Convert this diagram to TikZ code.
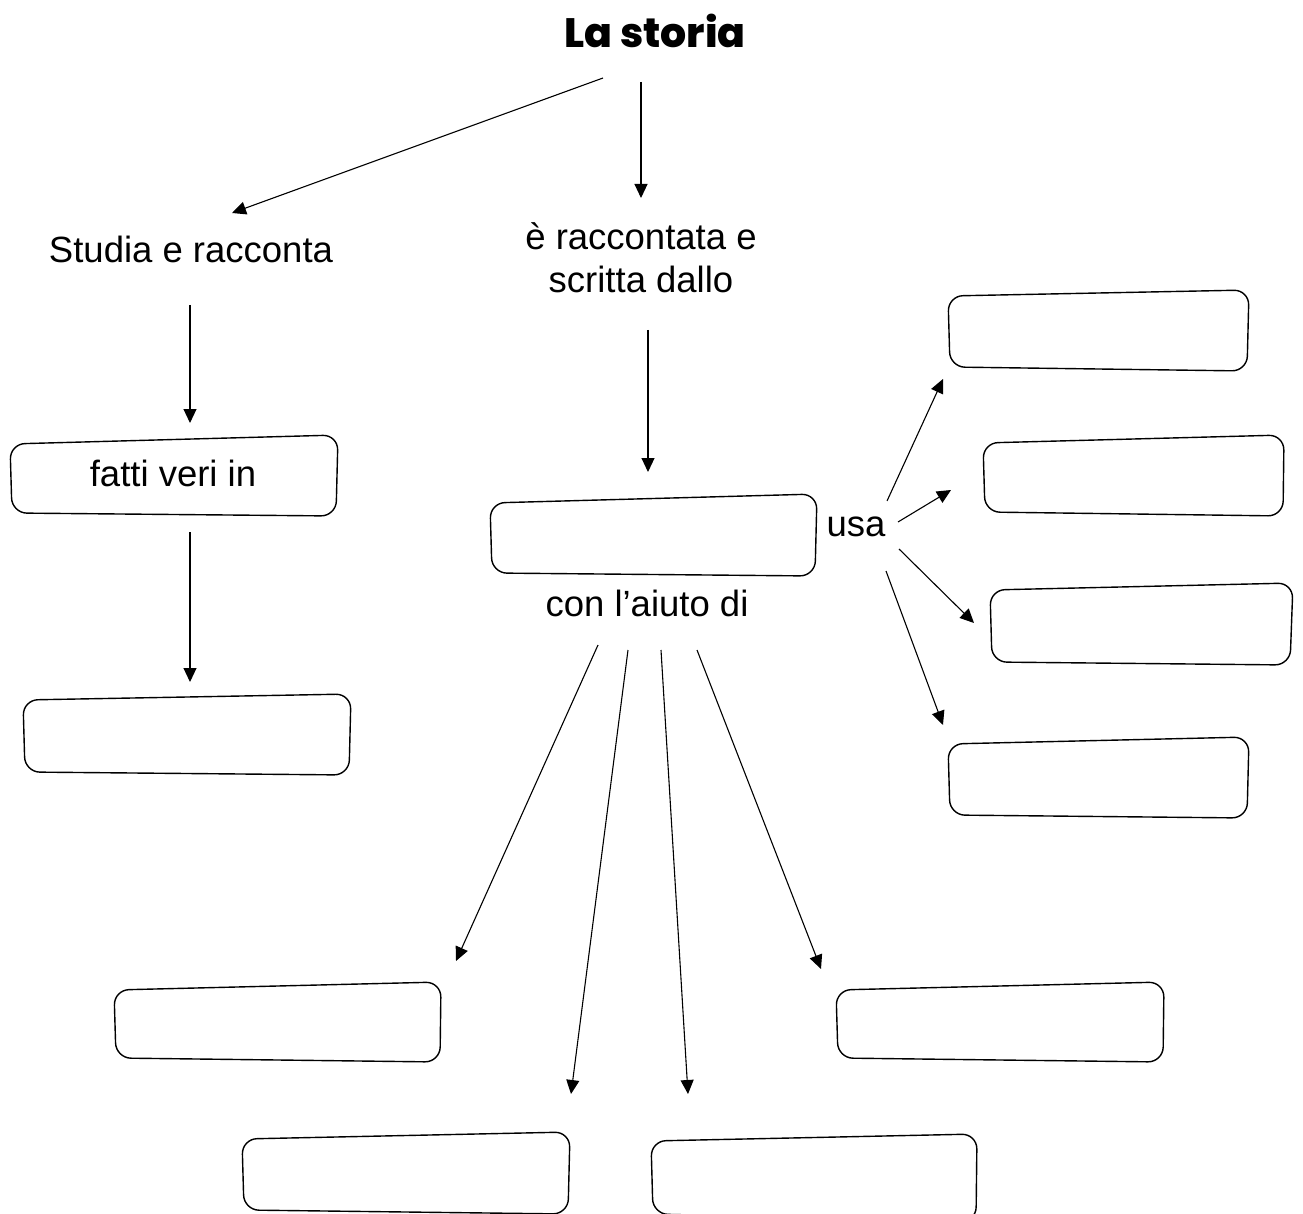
\documentclass[tikz,border=0pt]{standalone}
\usepackage{fontspec}
\setmainfont{Liberation Sans}
\newfontfamily\titlefont{Poppins}[UprightFont=* ExtraBold, BoldFont=* ExtraBold]
\usetikzlibrary{arrows.meta}
\tikzset{
  arr/.style={line width=1.1pt,-{Triangle[length=14pt,width=13pt]}},
  boxline/.style={line width=1.4pt,rounded corners=15pt},
  lbl/.style={font=\fontsize{36.5}{43}\selectfont,align=center,inner sep=0pt},
}
\newcommand\conceptbox[5]{%
  \draw[boxline] #2 -- #3 -- #4 -- #5 -- cycle;
  \path #2 -- #4 coordinate[pos=0.5] (#1);
}
\begin{document}
\begin{tikzpicture}[x=1pt,y=-1pt]
\useasboundingbox (0,0) rectangle (1303,1214);
% title and labels
\node[font=\titlefont\fontsize{41}{48}\selectfont,inner sep=0pt] (title) at (655,31) {La storia};
\node[lbl] (studia) at (191,249) {Studia e racconta};
\node[lbl] (racc) at (641,258) {è raccontata e\\scritta dallo};
\node[lbl] (usa) at (856,527) {usa};
\node[lbl] (aiuto) at (647,603) {con l’aiuto di};
% boxes
\conceptbox{fatti}{(10,444)}{(338,435)}{(336,516)}{(12,513)}
\node[lbl] (fattitxt) at (173,473) {fatti veri in};
\conceptbox{leftb}{(23,700)}{(351,694)}{(349,775)}{(25,772)}
\conceptbox{center}{(490,503)}{(817,494)}{(815,576)}{(492,573)}
\conceptbox{r1}{(948,296)}{(1249,290)}{(1247,371)}{(950,367)}
\conceptbox{r2}{(983,443)}{(1284,435)}{(1283,516)}{(985,512)}
\conceptbox{r3}{(990,590)}{(1293,583)}{(1290,665)}{(992,662)}
\conceptbox{r4}{(948,744)}{(1249,737)}{(1247,818)}{(950,815)}
\conceptbox{bl}{(114,990)}{(441,982)}{(440,1062)}{(116,1058)}
\conceptbox{br}{(836,990)}{(1164,982)}{(1163,1062)}{(838,1058)}
\conceptbox{b1}{(242,1139)}{(570,1132)}{(568,1214)}{(244,1210)}
\conceptbox{b2}{(651,1141)}{(977,1134)}{(976,1222)}{(653,1214)}
% arrow end points
\coordinate (t1s) at (603,78);   \coordinate (t1e) at (232,213);
\coordinate (t2s) at (641,82);   \coordinate (t2e) at (641,198);
\coordinate (s1s) at (190,305);  \coordinate (s1e) at (190,423);
\coordinate (f1s) at (190,532);  \coordinate (f1e) at (190,682);
\coordinate (c1s) at (648,330);  \coordinate (c1e) at (648,472);
\coordinate (u1s) at (887,501);  \coordinate (u1e) at (943,379);
\coordinate (u2s) at (898,522);  \coordinate (u2e) at (951,490);
\coordinate (u3s) at (899,549);  \coordinate (u3e) at (974,623);
\coordinate (u4s) at (886,571);  \coordinate (u4e) at (943,725);
\coordinate (a1s) at (598,645);  \coordinate (a1e) at (456,961);
\coordinate (a2s) at (628,650);  \coordinate (a2e) at (571,1094);
\coordinate (a3s) at (661,650);  \coordinate (a3e) at (688,1094);
\coordinate (a4s) at (697,650);  \coordinate (a4e) at (821,969);
% arrows
\draw[arr] (t1s) -- (t1e);
\draw[arr] (t2s) -- (t2e);
\draw[arr] (s1s) -- (s1e);
\draw[arr] (f1s) -- (f1e);
\draw[arr] (c1s) -- (c1e);
\draw[arr] (u1s) -- (u1e);
\draw[arr] (u2s) -- (u2e);
\draw[arr] (u3s) -- (u3e);
\draw[arr] (u4s) -- (u4e);
\draw[arr] (a1s) -- (a1e);
\draw[arr] (a2s) -- (a2e);
\draw[arr] (a3s) -- (a3e);
\draw[arr] (a4s) -- (a4e);
\end{tikzpicture}
\end{document}
